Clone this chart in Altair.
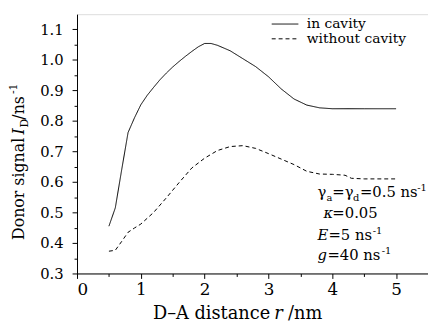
import altair as alt
import pandas as pd

# ---- data ----
r_cavity = [0.5, 0.6, 0.7, 0.8, 0.9, 1.0, 1.1, 1.2, 1.3, 1.4, 1.5, 1.6, 1.7, 1.8, 1.9,
            2.0, 2.1, 2.2, 2.4, 2.6, 2.8, 3.0, 3.2, 3.4, 3.6, 3.8, 4.0, 4.5, 5.0]
v_cavity = [0.455, 0.515, 0.64, 0.762, 0.81, 0.853, 0.884, 0.91, 0.935, 0.957, 0.977, 0.995,
            1.012, 1.028, 1.043, 1.054, 1.054, 1.048, 1.03, 1.004, 0.978, 0.945, 0.905,
            0.872, 0.852, 0.843, 0.840, 0.840, 0.840]

r_free = [0.5, 0.6, 0.7, 0.8, 0.9, 1.0, 1.2, 1.4, 1.6, 1.8, 2.0, 2.2, 2.4, 2.6, 2.8,
          3.0, 3.2, 3.4, 3.6, 3.8, 4.0, 4.2, 4.3, 4.5, 5.0]
v_free = [0.373, 0.376, 0.405, 0.435, 0.449, 0.462, 0.50, 0.548, 0.598, 0.646, 0.678,
          0.703, 0.716, 0.719, 0.71, 0.693, 0.675, 0.657, 0.635, 0.626, 0.625, 0.622,
          0.612, 0.61, 0.61]

series_names = ["in cavity", "without cavity"]
x_major = [0, 1, 2, 3, 4, 5]
x_minor = [0.5, 1.5, 2.5, 3.5, 4.5]
y_major = [0.3, 0.4, 0.5, 0.6, 0.7, 0.8, 0.9, 1.0, 1.1]
y_minor = [0.35, 0.45, 0.55, 0.65, 0.75, 0.85, 0.95, 1.05]

df = pd.concat([
    pd.DataFrame({"r": r_cavity, "v": v_cavity, "series": series_names[0]}),
    pd.DataFrame({"r": r_free, "v": v_free, "series": series_names[1]}),
])

FONT = "DejaVu Serif"
xscale = alt.Scale(domain=[0, 5.5], nice=False, zero=False)
yscale = alt.Scale(domain=[0.3, 1.15], nice=False, zero=False)

lines = alt.Chart(df).mark_line(color="black", strokeWidth=1).encode(
    x=alt.X("r:Q", scale=xscale, axis=alt.Axis(
        values=x_major, format="d", tickSize=5, labelPadding=3, title=None,
        domainColor="black", tickColor="black", labelColor="black",
        labelFont=FONT, labelFontSize=17, grid=False, orient="bottom")),
    y=alt.Y("v:Q", scale=yscale, axis=alt.Axis(
        values=y_major, format=".1f", tickSize=5, labelPadding=9, title=None,
        domainColor="black", tickColor="black", labelColor="black",
        labelFont=FONT, labelFontSize=15, grid=False, orient="left")),
    strokeDash=alt.StrokeDash("series:N", scale=alt.Scale(domain=series_names, range=[[1, 0], [4, 3]]),
        legend=alt.Legend(title=None, orient="none", legendX=203, legendY=2,
                          symbolType="M-1.8,0H1.8", symbolSize=225, symbolStrokeWidth=1,
                          symbolStrokeColor="black", symbolFillColor="transparent",
                          labelFont=FONT, labelFontSize=14,
                          labelColor="black", labelOffset=14, rowPadding=0, padding=0)),
)

minor = alt.Chart(df).mark_point(opacity=0, size=1).encode(
    x=alt.X("r:Q", scale=xscale, axis=alt.Axis(
        values=x_minor, labels=False, domain=False, tickSize=3, title=None,
        tickColor="black", grid=False, orient="bottom")),
    y=alt.Y("v:Q", scale=yscale, axis=alt.Axis(
        values=y_minor, labels=False, domain=False, tickSize=3, title=None,
        tickColor="black", grid=False, orient="left")),
)


def piece(text, x, y, size=14, style="normal", angle=0, dy=0):
    return alt.Chart(pd.DataFrame({"t": [text]})).mark_text(
        align="left", baseline="alphabetic", font=FONT, fontSize=size,
        fontStyle=style, angle=angle, dy=dy, color="black"
    ).encode(text="t:N", x=alt.value(x), y=alt.value(y))


texts = [
    # y title (rotated)
    piece("Donor signal", -54, 229, size=16, angle=270),
    piece("I", -54, 122, size=16, style="italic", angle=270),
    piece("D", -54, 115, size=11, angle=270, dy=4),
    piece("/ns", -54, 107, size=16, angle=270),
    piece("-1", -54, 81, size=11, angle=270, dy=-7),
    # x title
    piece("D\u2013A distance", 77, 309, size=18),
    piece("r", 200, 309, size=18, style="italic"),
    piece("/nm", 214, 309, size=18),
    # parameters
    piece("\u03b3", 244, 185, size=15),
    piece("a", 253, 185, size=10, dy=4),
    piece("=\u03b3", 259, 185, size=15),
    piece("d", 280, 185, size=10, dy=4),
    piece("=0.5 ns", 287, 185, size=15),
    piece("-1", 345, 185, size=10, dy=-6),
    piece("\u03ba", 250, 207, size=15, style="italic"),
    piece("=0.05", 259, 207, size=15),
    piece("E", 244, 229, size=15, style="italic"),
    piece("=5 ns", 255, 229, size=15),
    piece("-1", 300, 229, size=10, dy=-6),
    piece("g", 244, 249, size=15, style="italic"),
    piece("=40 ns", 254, 249, size=15),
    piece("-1", 309, 249, size=10, dy=-6),
]

chart = alt.layer(lines, minor, *texts).resolve_axis(
    x="independent", y="independent"
).properties(
    width=356, height=263,
    autosize=alt.AutoSizeParams(type="none"),
    padding={"left": 70, "top": 4, "right": 0, "bottom": 50},
).configure_view(stroke=None).configure(background="white", font=FONT)

chart.save("out.html", embed_options={"renderer": "svg", "actions": False})
